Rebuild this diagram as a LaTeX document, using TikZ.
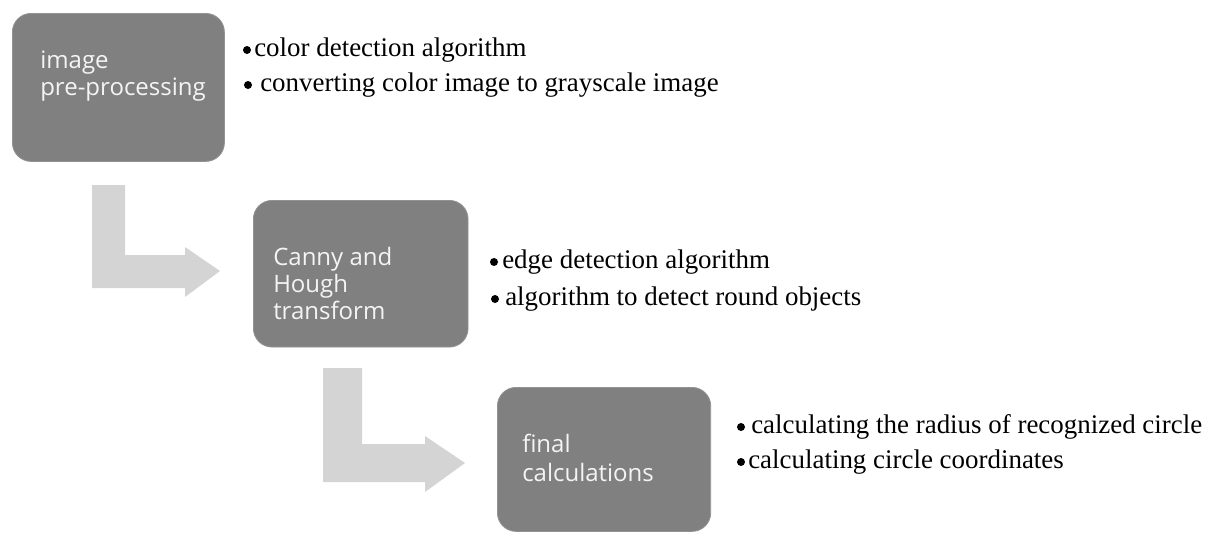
\documentclass[tikz,border=0pt]{standalone}
\usepackage{fontspec}
\setmainfont{Liberation Serif}
\newfontfamily\boxfont{Open Sans}
\definecolor{stepgray}{HTML}{808080}
\definecolor{arrowgray}{HTML}{D4D4D4}
\definecolor{steptext}{HTML}{F4F4F4}
\tikzset{
  stepbox/.style={draw=stepgray!85!white, line width=0.6pt, fill=stepgray,
    rounded corners=14pt, anchor=north west, inner sep=0pt},
  steplabel/.style={anchor=base west, inner sep=0pt, text=steptext,
    font=\boxfont\fontsize{18pt}{21pt}\selectfont},
  bullettext/.style={anchor=base west, inner sep=0pt, text=black,
    font=\fontsize{20.2pt}{24pt}\selectfont},
  bulletdot/.style={fill=black, draw=none},
  blockarrow/.style={fill=arrowgray, draw=none}
}
\begin{document}
\begin{tikzpicture}[x=0.75pt, y=-0.75pt]
  \useasboundingbox (0,0) rectangle (1211,533);

  % bent block arrows between the stages
  \fill[blockarrow] (92,185) -- (125,185) -- (125,255) -- (185,255) -- (185,247)
    -- (220,271) -- (185,297) -- (185,288) -- (92,288) -- cycle;
  \fill[blockarrow] (323,368) -- (362,368) -- (362,444) -- (425,444) -- (425,436)
    -- (465,463) -- (425,492) -- (425,482) -- (323,482) -- cycle;

  % stage boxes
  \node[stepbox, minimum width=159pt, minimum height=111pt] (pre) at (12,13) {};
  \node[stepbox, minimum width=161pt, minimum height=110pt] (hough) at (253,200) {};
  \node[stepbox, minimum width=160pt, minimum height=108pt] (final) at (497,387) {};

  % stage titles
  \node[steplabel] (preA) at (40,68) {image};
  \node[steplabel] (preB) at (40,95) {pre-processing};
  \node[steplabel] (houghA) at (273,265) {Canny and};
  \node[steplabel] (houghB) at (273,292) {Hough};
  \node[steplabel] (houghC) at (273,319) {transform};
  \node[steplabel] (finalA) at (522,452) {final};
  \node[steplabel] (finalB) at (522,481) {calculations};

  % bullet lists beside each stage
  \fill[bulletdot] (247,50) circle (4);
  \node[bullettext] (preI) at (254,56) {color detection algorithm};
  \fill[bulletdot] (248,85) circle (4);
  \node[bullettext] (preII) at (260,91) {converting color image to grayscale image};

  \fill[bulletdot] (494,262) circle (4);
  \node[bullettext] (houghI) at (502,268) {edge detection algorithm};
  \fill[bulletdot] (495,299) circle (4);
  \node[bullettext] (houghII) at (505,305) {algorithm to detect round objects};

  \fill[bulletdot] (741,427) circle (4);
  \node[bullettext] (finalI) at (751,433) {calculating the radius of recognized circle};
  \fill[bulletdot] (741,462) circle (4);
  \node[bullettext] (finalII) at (748,468) {calculating circle coordinates};
\end{tikzpicture}
\end{document}
